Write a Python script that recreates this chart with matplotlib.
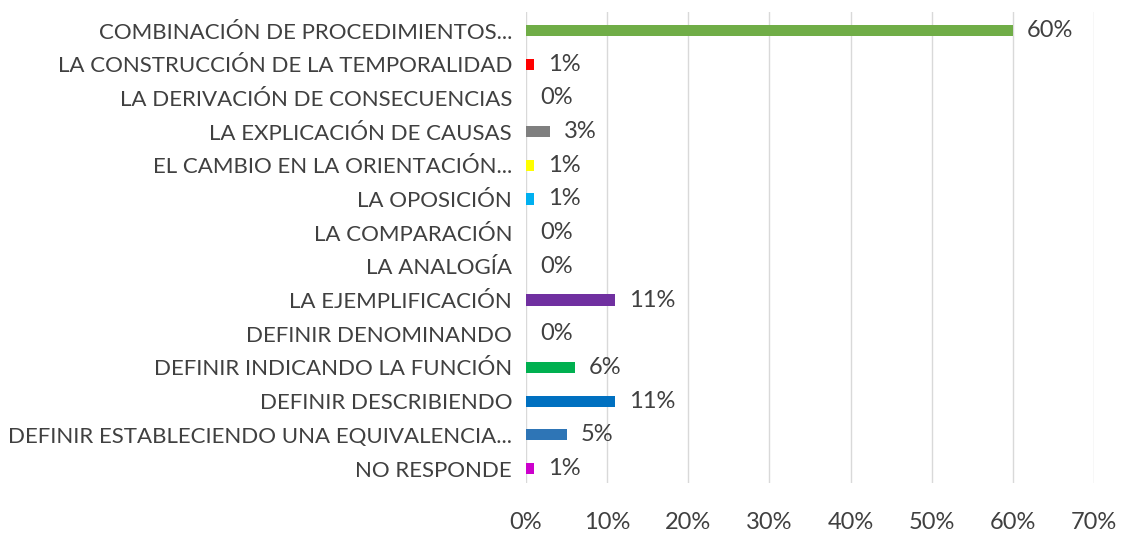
import matplotlib.pyplot as plt
from matplotlib.ticker import PercentFormatter

# categories from top to bottom, shares in percent
categories = [
    "COMBINACIÓN DE PROCEDIMIENTOS...",
    "LA CONSTRUCCIÓN DE LA TEMPORALIDAD",
    "LA DERIVACIÓN DE CONSECUENCIAS",
    "LA EXPLICACIÓN DE CAUSAS",
    "EL CAMBIO EN LA ORIENTACIÓN...",
    "LA OPOSICIÓN",
    "LA COMPARACIÓN",
    "LA ANALOGÍA",
    "LA EJEMPLIFICACIÓN",
    "DEFINIR DENOMINANDO",
    "DEFINIR INDICANDO LA FUNCIÓN",
    "DEFINIR DESCRIBIENDO",
    "DEFINIR ESTABLECIENDO UNA EQUIVALENCIA...",
    "NO RESPONDE",
]
values = [60, 1, 0, 3, 1, 1, 0, 0, 11, 0, 6, 11, 5, 1]
colors = ["#70AD47", "#FF0000", "#A5A5A5", "#7F7F7F", "#FFFF00", "#00B0F0",
          "#A5A5A5", "#A5A5A5", "#7030A0", "#A5A5A5", "#00B050", "#0070C0",
          "#2E75B6", "#CC00CC"]
xticks = [0, 10, 20, 30, 40, 50, 60, 70]

plt.rcParams['font.family'] = ['Lato', 'DejaVu Sans']

txt = "#404040"
fig = plt.figure(figsize=(11.21, 5.36), dpi=100)
ax = fig.add_axes([0.4692, 0.0989, 0.5067, 0.8787])

y = list(range(len(categories)))
ax.barh(y, values, height=0.33, color=colors, zorder=2)

# value labels to the right of each bar
for yi, v in zip(y, values):
    ax.annotate(f"{v}%", xy=(v, yi), xytext=(10, 0), textcoords="offset points",
                ha="left", va="center", fontsize=17, color=txt)

ax.set_xlim(0, 70)
ax.set_ylim(13.43, -0.55)
ax.set_xticks(xticks)
ax.xaxis.set_major_formatter(PercentFormatter(decimals=0))
ax.set_yticks(y)
ax.set_yticklabels(categories)
ax.tick_params(axis="both", length=0, colors=txt)
ax.tick_params(axis="y", pad=10, labelsize=16)
ax.tick_params(axis="x", pad=21, labelsize=17)
ax.grid(axis="x", color="#D9D9D9", linewidth=1, zorder=0)
for s in ax.spines.values():
    s.set_visible(False)

fig.savefig("out.png", dpi=100)
